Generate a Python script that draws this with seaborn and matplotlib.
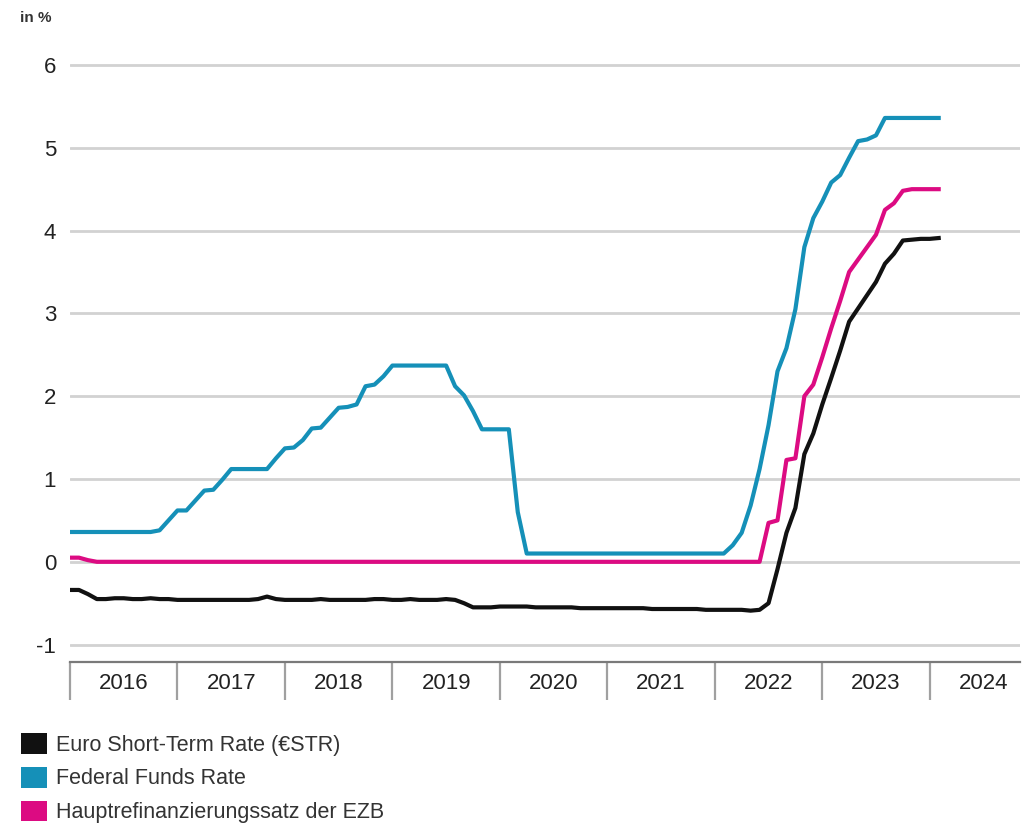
import numpy as np
import pandas as pd
import matplotlib
matplotlib.use("Agg")
import matplotlib.pyplot as plt
from matplotlib.patches import Patch
from matplotlib.ticker import FixedLocator, NullFormatter, FixedFormatter
import seaborn as sns

# ---------------- data (monthly, Jan 2016 - Feb 2024) ----------------
start_year = 2016
years = ["2016", "2017", "2018", "2019", "2020", "2021", "2022", "2023", "2024"]

estr = [
    -0.34, -0.34, -0.39, -0.45, -0.45, -0.44, -0.44, -0.45, -0.45, -0.44, -0.45, -0.45,
    -0.46, -0.46, -0.46, -0.46, -0.46, -0.46, -0.46, -0.46, -0.46, -0.45, -0.42, -0.45,
    -0.46, -0.46, -0.46, -0.46, -0.45, -0.46, -0.46, -0.46, -0.46, -0.46, -0.45, -0.45,
    -0.46, -0.46, -0.45, -0.46, -0.46, -0.46, -0.45, -0.46, -0.50, -0.55, -0.55, -0.55,
    -0.54, -0.54, -0.54, -0.54, -0.55, -0.55, -0.55, -0.55, -0.55, -0.56, -0.56, -0.56,
    -0.56, -0.56, -0.56, -0.56, -0.56, -0.57, -0.57, -0.57, -0.57, -0.57, -0.57, -0.58,
    -0.58, -0.58, -0.58, -0.58, -0.59, -0.58, -0.50, -0.09, 0.35, 0.65, 1.30, 1.55,
    1.90, 2.22, 2.55, 2.90, 3.06, 3.22, 3.38, 3.60, 3.72, 3.88, 3.89, 3.90,
    3.90, 3.91,
]

fed = [
    0.36, 0.36, 0.36, 0.36, 0.36, 0.36, 0.36, 0.36, 0.36, 0.36, 0.38, 0.50,
    0.62, 0.62, 0.74, 0.86, 0.87, 0.99, 1.12, 1.12, 1.12, 1.12, 1.12, 1.25,
    1.37, 1.38, 1.47, 1.61, 1.62, 1.74, 1.86, 1.87, 1.90, 2.12, 2.14, 2.24,
    2.37, 2.37, 2.37, 2.37, 2.37, 2.37, 2.37, 2.12, 2.01, 1.82, 1.60, 1.60,
    1.60, 1.60, 0.60, 0.10, 0.10, 0.10, 0.10, 0.10, 0.10, 0.10, 0.10, 0.10,
    0.10, 0.10, 0.10, 0.10, 0.10, 0.10, 0.10, 0.10, 0.10, 0.10, 0.10, 0.10,
    0.10, 0.10, 0.20, 0.35, 0.68, 1.12, 1.65, 2.30, 2.58, 3.05, 3.80, 4.15,
    4.35, 4.58, 4.67, 4.88, 5.08, 5.10, 5.15, 5.36, 5.36, 5.36, 5.36, 5.36,
    5.36, 5.36,
]

ecb = [
    0.05, 0.05, 0.02, 0.00, 0.00, 0.00, 0.00, 0.00, 0.00, 0.00, 0.00, 0.00,
    0.00, 0.00, 0.00, 0.00, 0.00, 0.00, 0.00, 0.00, 0.00, 0.00, 0.00, 0.00,
    0.00, 0.00, 0.00, 0.00, 0.00, 0.00, 0.00, 0.00, 0.00, 0.00, 0.00, 0.00,
    0.00, 0.00, 0.00, 0.00, 0.00, 0.00, 0.00, 0.00, 0.00, 0.00, 0.00, 0.00,
    0.00, 0.00, 0.00, 0.00, 0.00, 0.00, 0.00, 0.00, 0.00, 0.00, 0.00, 0.00,
    0.00, 0.00, 0.00, 0.00, 0.00, 0.00, 0.00, 0.00, 0.00, 0.00, 0.00, 0.00,
    0.00, 0.00, 0.00, 0.00, 0.00, 0.00, 0.47, 0.50, 1.23, 1.25, 2.00, 2.14,
    2.47, 2.82, 3.15, 3.50, 3.65, 3.80, 3.95, 4.25, 4.33, 4.48, 4.50, 4.50,
    4.50, 4.50,
]

series_names = [
    "Euro Short-Term Rate (€STR)",
    "Federal Funds Rate",
    "Hauptrefinanzierungssatz der EZB",
]
colors = ["#111111", "#1590b8", "#dc0b82"]
y_ticks = [-1, 0, 1, 2, 3, 4, 5, 6]

# ---------------- long-form frame ----------------
n = len(estr)
dates = pd.date_range(f"{start_year}-01-01", periods=n, freq="MS")
xdec = dates.year + (dates.month - 1) / 12.0
df = pd.concat([
    pd.DataFrame({"x": xdec, "value": vals, "series": name})
    for name, vals in zip(series_names, [estr, fed, ecb])
], ignore_index=True)

# ---------------- style ----------------
sns.set_theme(style="white")
fs = 16
plt.rcParams["font.family"] = ["Liberation Sans", "DejaVu Sans"]
plt.rcParams["axes.unicode_minus"] = False

fig = plt.figure(figsize=(10.23, 8.30), dpi=100)
ax = fig.add_axes([70 / 1023, 1 - 662 / 830, (1020 - 70) / 1023, (662 - 48.4) / 830])

ax.set_xlim(2016.0, 2024.84)
ax.set_ylim(-1.21, 6.2)

# grid
for yv in y_ticks:
    ax.axhline(yv, color="#d2d2d2", lw=2.0, zorder=0)

sns.lineplot(data=df, x="x", y="value", hue="series", hue_order=series_names,
             palette=colors, linewidth=3.0, legend=False, ax=ax, zorder=3)
for ln in ax.get_lines()[-3:]:
    ln.set_solid_joinstyle("round")
    ln.set_solid_capstyle("projecting")

# spines
for s in ["top", "right", "left"]:
    ax.spines[s].set_visible(False)
ax.spines["bottom"].set_color("#7a7a7a")
ax.spines["bottom"].set_linewidth(1.6)

# y ticks
ax.set_yticks(y_ticks)
ax.set_yticklabels([str(v) for v in y_ticks])
ax.tick_params(axis="y", length=0, pad=10, labelsize=fs, labelcolor="#222222")

# x ticks: separators at year boundaries, labels centered in between
bounds = [start_year + i for i in range(len(years))]
ax.xaxis.set_major_locator(FixedLocator(bounds))
ax.xaxis.set_major_formatter(NullFormatter())
ax.xaxis.set_minor_locator(FixedLocator([b + 0.5 for b in bounds]))
ax.xaxis.set_minor_formatter(FixedFormatter(years))
ax.tick_params(axis="x", which="major", length=27, width=1.6, color="#a0a0a0",
               direction="out", bottom=True)
ax.tick_params(axis="x", which="minor", length=0, pad=8, labelsize=fs,
               labelcolor="#222222", bottom=True)
ax.set_xlabel("")
ax.set_ylabel("")

# unit label
fig.text(20 / 1023, 1 - 18 / 830, "in %", ha="left", va="center",
         fontsize=11, fontweight="bold", color="#333333")

# legend
lfs = 15.5
handles = [Patch(facecolor=c, edgecolor="none") for c in colors]
fig.legend(handles, series_names, loc="upper left",
           bbox_to_anchor=(21 / 1023, 1 - 733 / 830), frameon=False,
           fontsize=lfs, handlelength=1.2, handleheight=1.1, handletextpad=0.42,
           labelspacing=0.52, borderpad=0, borderaxespad=0, labelcolor="#333333")

fig.savefig("out.png", dpi=100)
